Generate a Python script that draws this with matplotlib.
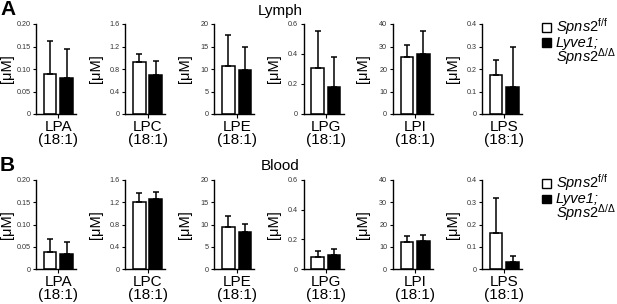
import numpy as np
import matplotlib.pyplot as plt
from matplotlib.patches import Rectangle

plt.rcParams['font.family'] = ['Liberation Sans', 'DejaVu Sans']
plt.rcParams['mathtext.fontset'] = 'custom'
plt.rcParams['mathtext.rm'] = 'Liberation Sans'
plt.rcParams['mathtext.it'] = 'Liberation Sans:italic'

# data
lipids = ["LPA", "LPC", "LPE", "LPG", "LPI", "LPS"]
ymax = [0.20, 1.6, 20, 0.6, 40, 0.4]
yticks = [[0, 0.05, 0.10, 0.15, 0.20], [0, 0.4, 0.8, 1.2, 1.6], [0, 5, 10, 15, 20],
          [0, 0.2, 0.4, 0.6], [0, 10, 20, 30, 40], [0, 0.1, 0.2, 0.3, 0.4]]
ticklabels = [["0", "0.05", "0.10", "0.15", "0.20"], ["0", "0.4", "0.8", "1.2", "1.6"],
              ["0", "5", "10", "15", "20"], ["0", "0.2", "0.4", "0.6"],
              ["0", "10", "20", "30", "40"], ["0", "0.1", "0.2", "0.3", "0.4"]]

lymph_ctrl = [0.089, 0.918, 10.7, 0.304, 25.5, 0.172]
lymph_ctrl_err = [0.074, 0.143, 6.8, 0.247, 5.2, 0.069]
lymph_ko = [0.079, 0.699, 9.85, 0.18, 26.8, 0.119]
lymph_ko_err = [0.065, 0.237, 5.1, 0.20, 10.2, 0.18]

blood_ctrl = [0.039, 1.198, 9.5, 0.078, 12.3, 0.163]
blood_ctrl_err = [0.028, 0.174, 2.5, 0.043, 2.4, 0.157]
blood_ko = [0.033, 1.258, 8.35, 0.096, 12.7, 0.030]
blood_ko_err = [0.027, 0.12, 1.75, 0.038, 2.7, 0.028]

# letter, title, values, axes top/bottom (px), letter y, title y
rows = [("A", "Lymph", lymph_ctrl, lymph_ctrl_err, lymph_ko, lymph_ko_err, 24, 114, 9.5, 11),
        ("B", "Blood", blood_ctrl, blood_ctrl_err, blood_ko, blood_ko_err, 180, 269, 165.5, 166)]

W, H = 617, 304
fig = plt.figure(figsize=(W / 100, H / 100), dpi=100)

for letter, title, c, ce, k, ke, top, bot, ly, ty in rows:
    for i, name in enumerate(lipids):
        left = 36 + 89.2 * i
        ax = fig.add_axes([left / W, 1 - bot / H, 40 / W, (bot - top) / H])
        ax.bar(0, c[i], width=0.76, color="white", edgecolor="black", linewidth=1.1)
        ax.bar(1, k[i], width=0.76, color="black", edgecolor="black", linewidth=1.1)
        ax.errorbar([0, 1], [c[i], k[i]], yerr=[[0, 0], [ce[i], ke[i]]], fmt="none",
                    ecolor="black", elinewidth=1.1, capsize=2.5, capthick=1.1)
        ax.set_xlim(-0.85, 1.57)
        ax.set_ylim(0, ymax[i])
        ax.set_yticks(yticks[i])
        ax.set_yticklabels(ticklabels[i])
        ax.set_xticks([0.5])
        ax.set_xticklabels([name + "\n(18:1)"], fontsize=11, linespacing=0.95)
        ax.tick_params(axis="y", labelsize=5.2, length=2.5, width=0.8, pad=1.5, labelcolor="#333333")
        ax.tick_params(axis="x", length=3, width=0.8, pad=1)
        ax.spines[["top", "right"]].set_visible(False)
        for s in ("left", "bottom"):
            ax.spines[s].set_linewidth(1.0)
        ax.set_ylabel("[μM]", fontsize=10.5)
        ax.yaxis.set_label_coords(-0.56, 0.5)

    fig.text(0, 1 - ly / H, letter, fontsize=15, fontweight="bold", va="center")
    fig.text(280 / W, 1 - ty / H, title, fontsize=11, ha="center", va="center")

    # legend, placed relative to the row's axes top
    for fc, y0 in zip(["white", "black"], (top - 1, top + 14.5)):
        fig.patches.append(Rectangle((542 / W, 1 - (y0 + 8.5) / H), 9 / W, 8.5 / H,
                                     facecolor=fc, edgecolor="black", linewidth=1.0,
                                     transform=fig.transFigure, figure=fig))
    fig.text(556 / W, 1 - (top + 7.5) / H, r"$\mathit{Spns2}^{\mathrm{f/f}}$", fontsize=10.5, va="baseline")
    fig.text(556 / W, 1 - (top + 23) / H, "Lyve1;", fontsize=10.5, style="italic", va="baseline")
    fig.text(556 / W, 1 - (top + 37.5) / H, r"$\mathit{Spns2}^{\mathrm{\Delta/\Delta}}$", fontsize=10.5, va="baseline")

fig.savefig("out.png", dpi=100)
